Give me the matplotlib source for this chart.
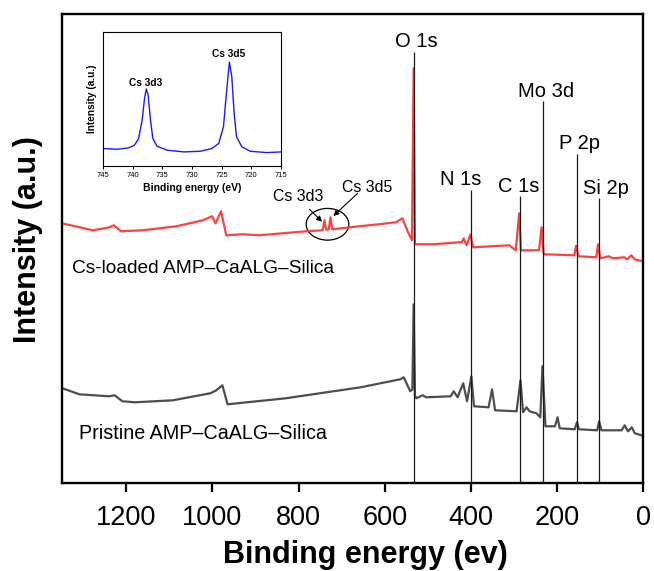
import matplotlib
matplotlib.use("Agg")
import matplotlib.pyplot as plt
from matplotlib.patches import Ellipse

plt.rcParams['font.family'] = ['Liberation Sans', 'DejaVu Sans']

# ---- survey spectra (binding energy in eV, intensity in a.u.) ----
pristine_be = [1348, 1309, 1240, 1227, 1209, 1179, 1092, 1005, 991, 977, 965,
               830, 656, 564, 556, 541, 536, 533, 530, 527, 512, 504, 447, 440,
               431, 418, 409, 399, 393, 359, 351, 344, 294, 285, 279, 271, 264,
               248, 239, 234, 227, 205, 199, 194, 159, 154, 149, 107, 102.5,
               97, 50, 43, 35.5, 26.7, 19.7, 4]
pristine_int = [95, 89, 87, 88, 82, 81, 83, 90, 93, 98, 79,
                85, 96, 104, 106, 92, 94, 179, 88, 85, 88, 86, 87, 92,
                86, 100, 82, 107, 77, 76, 94, 73, 72, 103, 71, 76, 72,
                70, 66, 117, 57, 57, 66, 55, 54, 61, 54, 53, 62,
                53, 53, 58, 52, 56, 50, 48]

loaded_be = [1350, 1308, 1278, 1239, 1229, 1212, 1162, 1084, 1022, 1001, 993,
             980, 968, 930, 891, 783, 744, 740, 736, 730, 726, 722, 659, 614,
             574, 559, 547, 537, 533, 530, 513, 489, 427, 421, 417, 410, 401,
             395, 311, 296, 288, 284, 242, 236, 231, 160, 156, 150.5, 109,
             105, 100, 80, 71, 44, 37.6, 28, 20, 1]
loaded_int = [260, 256, 253, 256, 258, 252, 253, 257, 263, 267, 260,
              272, 248, 249, 248, 252, 253, 263, 253.5, 254, 266, 254, 257, 259,
              261, 265, 252, 243, 415, 239, 239, 239, 241, 241, 245, 238, 249,
              236, 238, 233, 270, 233, 233, 256, 229, 228, 237.5, 227, 226,
              239, 225, 227, 225, 226, 224, 228, 224, 222]

# ---- Cs 3d high-resolution scan ----
cs_be = [744.9, 742.6, 740.7, 739.7, 739.0, 738.4, 738.0, 737.7, 737.4, 737.0,
         736.6, 735.9, 734.2, 731.4, 728.6, 726.7, 725.5, 724.7, 724.1, 723.7,
         723.3, 722.9, 722.5, 721.6, 720.2, 717.4, 715.0]
cs_int = [13.0, 12.5, 13.5, 15.5, 20.5, 34.3, 50.5, 57.5, 53.0, 34.3,
          20.5, 14.8, 11.8, 10.5, 11.0, 13.0, 16.8, 29.3, 59.3, 77.5,
          66.8, 39.3, 21.8, 14.3, 11.0, 10.0, 10.5]

# ---- element markers ----
peak_names = ['O 1s', 'N 1s', 'C 1s', 'Mo 3d', 'P 2p', 'Si 2p']
peak_be = [533, 400, 286, 233, 153.7, 102]
peak_top = [431.5, 293.3, 287, 382, 329.5, 285]
label_be = [527.5, 424.8, 289.4, 226.3, 149.1, 87.4]

xticks = [1200, 1000, 800, 600, 400, 200, 0]
inset_xticks = [745, 740, 735, 730, 725, 720, 715]

fig = plt.figure(figsize=(6.54, 5.71), dpi=100)
ax = fig.add_axes([0.0943, 0.1536, 0.8893, 0.8214])

ax.plot(loaded_be, loaded_int, color='#ff4040', lw=1.6, zorder=2)
ax.plot(pristine_be, pristine_int, color='#4d4d4d', lw=1.6, zorder=2)

ax.vlines(peak_be, 0, peak_top, color='#1a1a1a', lw=0.9, zorder=3)
for name, lx, top in zip(peak_names, label_be, peak_top):
    ax.annotate(name, (lx, top), xytext=(0, 3.3), textcoords='offset points',
                ha='center', va='baseline', fontsize=14.5)

ax.text(1327, 215, 'Cs-loaded AMP\u2013CaALG\u2013Silica', ha='left',
        va='center', fontsize=13.8)
ax.text(1309, 50, 'Pristine AMP\u2013CaALG\u2013Silica', ha='left',
        va='center', fontsize=14.2)

ax.add_patch(Ellipse((733, 259), 99, 31.7, fill=False, ec='black', lw=0.9))
ax.annotate('', xy=(745.5, 261.6), xytext=(775, 274),
            arrowprops=dict(arrowstyle='-|>', color='black', lw=0.8,
                            mutation_scale=8, shrinkA=0, shrinkB=0))
ax.annotate('', xy=(719.3, 267.3), xytext=(663, 290),
            arrowprops=dict(arrowstyle='-|>', color='black', lw=0.8,
                            mutation_scale=8, shrinkA=0, shrinkB=0))
ax.text(802, 286.6, 'Cs 3d3', ha='center', va='center', fontsize=11.4)
ax.text(640.5, 296.1, 'Cs 3d5', ha='center', va='center', fontsize=11.4)

ax.set_xlim(1350, 0)
ax.set_ylim(0, 469)
ax.set_xticks(xticks)
ax.set_xticklabels([str(t) for t in xticks])
ax.set_yticks([])
ax.tick_params(axis='x', direction='out', length=6.5, width=1.6,
               labelsize=19.5, pad=9)
for s in ax.spines.values():
    s.set_linewidth(1.7)

ax.set_xlabel('Binding energy (ev)', fontsize=22, fontweight='bold', va='top')
ax.xaxis.set_label_coords(0.523, -0.121)
ax.set_ylabel('Intensity (a.u.)', fontsize=22, fontweight='bold', va='center')
ax.yaxis.set_label_coords(-0.058, 0.52)

# inset: Cs 3d region
ins = fig.add_axes([0.1575, 0.7093, 0.2722, 0.2347])
ins.plot(cs_be, cs_int, color='#1a1aff', lw=1.0)
ins.set_xlim(745, 715)
ins.set_ylim(0, 100)
ins.set_xticks(inset_xticks)
ins.set_xticklabels([str(t) for t in inset_xticks])
ins.set_yticks([])
ins.tick_params(axis='x', direction='out', length=2.5, width=0.7,
                labelsize=5.5, pad=1.5)
for s in ins.spines.values():
    s.set_linewidth(0.8)
ins.set_xlabel('Binding energy (eV)', fontsize=7.5, fontweight='bold', labelpad=3)
ins.set_ylabel('Intensity (a.u.)', fontsize=7.3, fontweight='bold', labelpad=4)
ins.text(737.8, 62, 'Cs 3d3', ha='center', va='center', fontsize=7.3,
         fontweight='bold')
ins.text(723.9, 83.5, 'Cs 3d5', ha='center', va='center', fontsize=7.3,
         fontweight='bold')

fig.savefig('out.png', dpi=100)
